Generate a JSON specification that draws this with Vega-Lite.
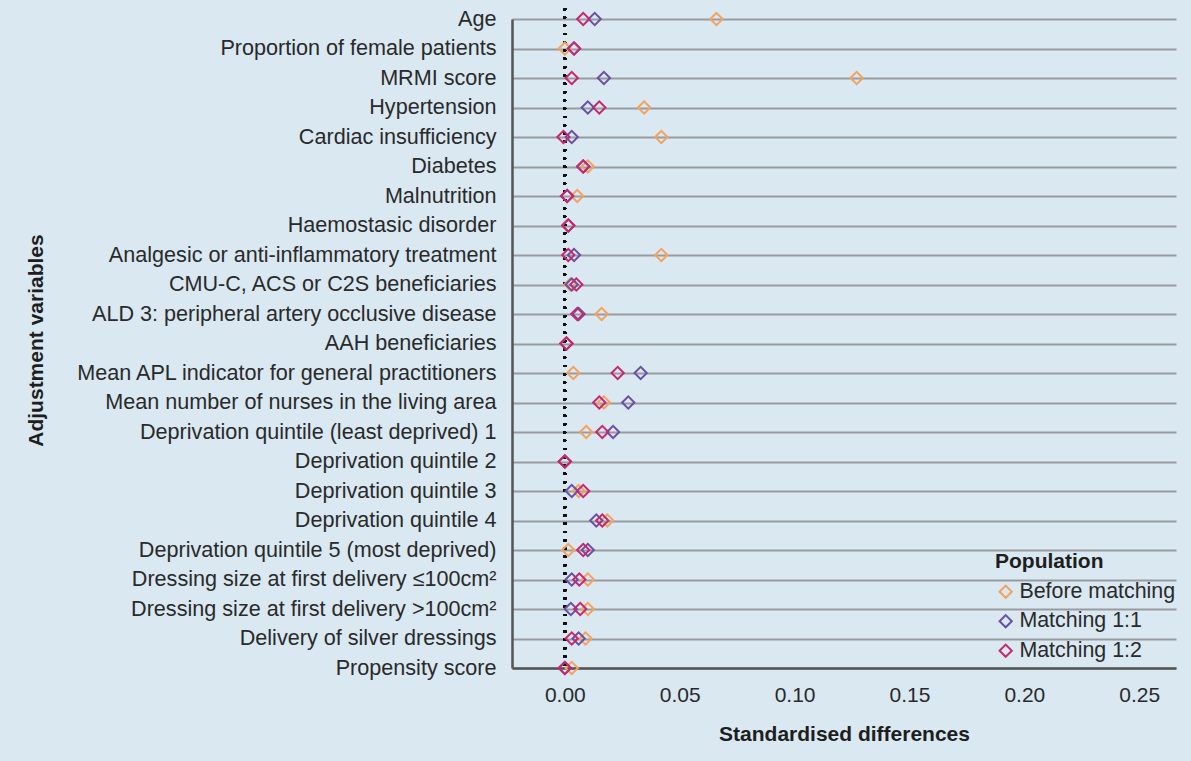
{
  "$schema": "https://vega.github.io/schema/vega-lite/v6.json",
  "width": 664,
  "height": 660,
  "autosize": {"type": "none"},
  "padding": {"left": 512, "top": 8, "right": 15, "bottom": 93},
  "background": "#d9e8f1",
  "config": {
    "view": {"stroke": null},
    "font": "Liberation Sans",
    "text": {"font": "Liberation Sans"}
  },
  "data": {
    "values": [
      {"variable": "Age", "population": "Before matching", "value": 0.066},
      {"variable": "Age", "population": "Matching 1:1", "value": 0.013},
      {"variable": "Age", "population": "Matching 1:2", "value": 0.008},
      {"variable": "Proportion of female patients", "population": "Before matching", "value": 0.0},
      {"variable": "Proportion of female patients", "population": "Matching 1:1", "value": 0.004},
      {"variable": "Proportion of female patients", "population": "Matching 1:2", "value": 0.004},
      {"variable": "MRMI score", "population": "Before matching", "value": 0.127},
      {"variable": "MRMI score", "population": "Matching 1:1", "value": 0.017},
      {"variable": "MRMI score", "population": "Matching 1:2", "value": 0.003},
      {"variable": "Hypertension", "population": "Before matching", "value": 0.0345},
      {"variable": "Hypertension", "population": "Matching 1:1", "value": 0.010},
      {"variable": "Hypertension", "population": "Matching 1:2", "value": 0.015},
      {"variable": "Cardiac insufficiency", "population": "Before matching", "value": 0.042},
      {"variable": "Cardiac insufficiency", "population": "Matching 1:1", "value": 0.003},
      {"variable": "Cardiac insufficiency", "population": "Matching 1:2", "value": -0.0006},
      {"variable": "Diabetes", "population": "Before matching", "value": 0.010},
      {"variable": "Diabetes", "population": "Matching 1:1", "value": 0.008},
      {"variable": "Diabetes", "population": "Matching 1:2", "value": 0.008},
      {"variable": "Malnutrition", "population": "Before matching", "value": 0.0054},
      {"variable": "Malnutrition", "population": "Matching 1:1", "value": 0.001},
      {"variable": "Malnutrition", "population": "Matching 1:2", "value": 0.001},
      {"variable": "Haemostasic disorder", "population": "Before matching", "value": 0.0015},
      {"variable": "Haemostasic disorder", "population": "Matching 1:1", "value": 0.0015},
      {"variable": "Haemostasic disorder", "population": "Matching 1:2", "value": 0.0015},
      {"variable": "Analgesic or anti-inflammatory treatment", "population": "Before matching", "value": 0.042},
      {"variable": "Analgesic or anti-inflammatory treatment", "population": "Matching 1:1", "value": 0.004},
      {"variable": "Analgesic or anti-inflammatory treatment", "population": "Matching 1:2", "value": 0.0015},
      {"variable": "CMU-C, ACS or C2S beneficiaries", "population": "Before matching", "value": 0.0024},
      {"variable": "CMU-C, ACS or C2S beneficiaries", "population": "Matching 1:1", "value": 0.003},
      {"variable": "CMU-C, ACS or C2S beneficiaries", "population": "Matching 1:2", "value": 0.005},
      {"variable": "ALD 3: peripheral artery occlusive disease", "population": "Before matching", "value": 0.016},
      {"variable": "ALD 3: peripheral artery occlusive disease", "population": "Matching 1:1", "value": 0.006},
      {"variable": "ALD 3: peripheral artery occlusive disease", "population": "Matching 1:2", "value": 0.0054},
      {"variable": "AAH beneficiaries", "population": "Before matching", "value": 0.0007},
      {"variable": "AAH beneficiaries", "population": "Matching 1:1", "value": 0.0007},
      {"variable": "AAH beneficiaries", "population": "Matching 1:2", "value": 0.0007},
      {"variable": "Mean APL indicator for general practitioners", "population": "Before matching", "value": 0.0037},
      {"variable": "Mean APL indicator for general practitioners", "population": "Matching 1:1", "value": 0.033},
      {"variable": "Mean APL indicator for general practitioners", "population": "Matching 1:2", "value": 0.023},
      {"variable": "Mean number of nurses in the living area", "population": "Before matching", "value": 0.017},
      {"variable": "Mean number of nurses in the living area", "population": "Matching 1:1", "value": 0.0276},
      {"variable": "Mean number of nurses in the living area", "population": "Matching 1:2", "value": 0.015},
      {"variable": "Deprivation quintile (least deprived) 1", "population": "Before matching", "value": 0.0093},
      {"variable": "Deprivation quintile (least deprived) 1", "population": "Matching 1:1", "value": 0.021},
      {"variable": "Deprivation quintile (least deprived) 1", "population": "Matching 1:2", "value": 0.0163},
      {"variable": "Deprivation quintile 2", "population": "Before matching", "value": 0.0},
      {"variable": "Deprivation quintile 2", "population": "Matching 1:1", "value": 0.0},
      {"variable": "Deprivation quintile 2", "population": "Matching 1:2", "value": 0.0},
      {"variable": "Deprivation quintile 3", "population": "Before matching", "value": 0.006},
      {"variable": "Deprivation quintile 3", "population": "Matching 1:1", "value": 0.003},
      {"variable": "Deprivation quintile 3", "population": "Matching 1:2", "value": 0.008},
      {"variable": "Deprivation quintile 4", "population": "Before matching", "value": 0.0185},
      {"variable": "Deprivation quintile 4", "population": "Matching 1:1", "value": 0.0137},
      {"variable": "Deprivation quintile 4", "population": "Matching 1:2", "value": 0.0163},
      {"variable": "Deprivation quintile 5 (most deprived)", "population": "Before matching", "value": 0.0015},
      {"variable": "Deprivation quintile 5 (most deprived)", "population": "Matching 1:1", "value": 0.010},
      {"variable": "Deprivation quintile 5 (most deprived)", "population": "Matching 1:2", "value": 0.008},
      {"variable": "Dressing size at first delivery ≤100cm²", "population": "Before matching", "value": 0.010},
      {"variable": "Dressing size at first delivery ≤100cm²", "population": "Matching 1:1", "value": 0.003},
      {"variable": "Dressing size at first delivery ≤100cm²", "population": "Matching 1:2", "value": 0.0063},
      {"variable": "Dressing size at first delivery >100cm²", "population": "Before matching", "value": 0.010},
      {"variable": "Dressing size at first delivery >100cm²", "population": "Matching 1:1", "value": 0.0026},
      {"variable": "Dressing size at first delivery >100cm²", "population": "Matching 1:2", "value": 0.0067},
      {"variable": "Delivery of silver dressings", "population": "Before matching", "value": 0.009},
      {"variable": "Delivery of silver dressings", "population": "Matching 1:1", "value": 0.006},
      {"variable": "Delivery of silver dressings", "population": "Matching 1:2", "value": 0.003},
      {"variable": "Propensity score", "population": "Before matching", "value": 0.003},
      {"variable": "Propensity score", "population": "Matching 1:1", "value": 0.0},
      {"variable": "Propensity score", "population": "Matching 1:2", "value": 0.0}
    ]
  },
  "layer": [
    {
      "mark": {"type": "rule", "color": "#111111", "strokeWidth": 2.4, "strokeDash": [2.2, 6.1], "strokeCap": "butt"},
      "encoding": {"x": {"datum": 0, "type": "quantitative", "scale": {"domain": [-0.023, 0.266], "nice": false, "zero": false}}}
    },
    {
      "mark": {"type": "point", "shape": "diamond", "filled": false, "strokeWidth": 2, "size": 150, "opacity": 1},
      "encoding": {
        "x": {
          "field": "value",
          "type": "quantitative",
          "scale": {"domain": [-0.023, 0.266], "nice": false, "zero": false},
          "axis": {
            "title": "Standardised differences",
            "values": [0, 0.05, 0.1, 0.15, 0.2, 0.25],
            "format": ".2f",
            "grid": false,
            "ticks": false,
            "domainColor": "#555555",
            "domainWidth": 2.5,
            "labelFontSize": 21,
            "labelColor": "#2a2a2a",
            "labelPadding": 16,
            "labelFont": "Liberation Sans",
            "titleFont": "Liberation Sans",
            "titleFontSize": 21,
            "titleFontWeight": "bold",
            "titleColor": "#1e1e1e",
            "titleBaseline": "alphabetic",
            "titleY": 72
          }
        },
        "y": {
          "field": "variable",
          "type": "nominal",
          "sort": null,
          "scale": {"type": "point", "range": [11, 660], "padding": 0},
          "axis": {
            "title": "Adjustment variables",
            "grid": true,
            "gridColor": "#989ca0",
            "gridWidth": 2,
            "ticks": false,
            "domainColor": "#555555",
            "domainWidth": 2.5,
            "labelFontSize": 21.6,
            "labelColor": "#2a2a2a",
            "labelPadding": 16,
            "labelLimit": 0,
            "labelFont": "Liberation Sans",
            "titleFont": "Liberation Sans",
            "titleFontSize": 21,
            "titleFontWeight": "bold",
            "titleColor": "#1e1e1e",
            "titleAngle": -90,
            "titleBaseline": "alphabetic",
            "titleAlign": "center",
            "titleX": -470,
            "titleY": 332
          }
        },
        "color": {
          "field": "population",
          "type": "nominal",
          "scale": {"domain": ["Before matching", "Matching 1:1", "Matching 1:2"], "range": ["#f5a25d", "#6a4fa3", "#c8276e"]},
          "legend": {
            "title": "Population",
            "orient": "none",
            "legendX": 483,
            "legendY": 543,
            "padding": 0,
            "titleFont": "Liberation Sans",
            "titleFontSize": 21,
            "titleFontWeight": "bold",
            "titleColor": "#1e1e1e",
            "titlePadding": 9,
            "labelFont": "Liberation Sans",
            "labelFontSize": 21.4,
            "labelColor": "#2a2a2a",
            "labelOffset": 3,
            "rowPadding": 6.5,
            "symbolType": "diamond",
            "symbolSize": 150,
            "symbolStrokeWidth": 2,
            "symbolFillColor": "transparent"
          }
        }
      }
    }
  ]
}
